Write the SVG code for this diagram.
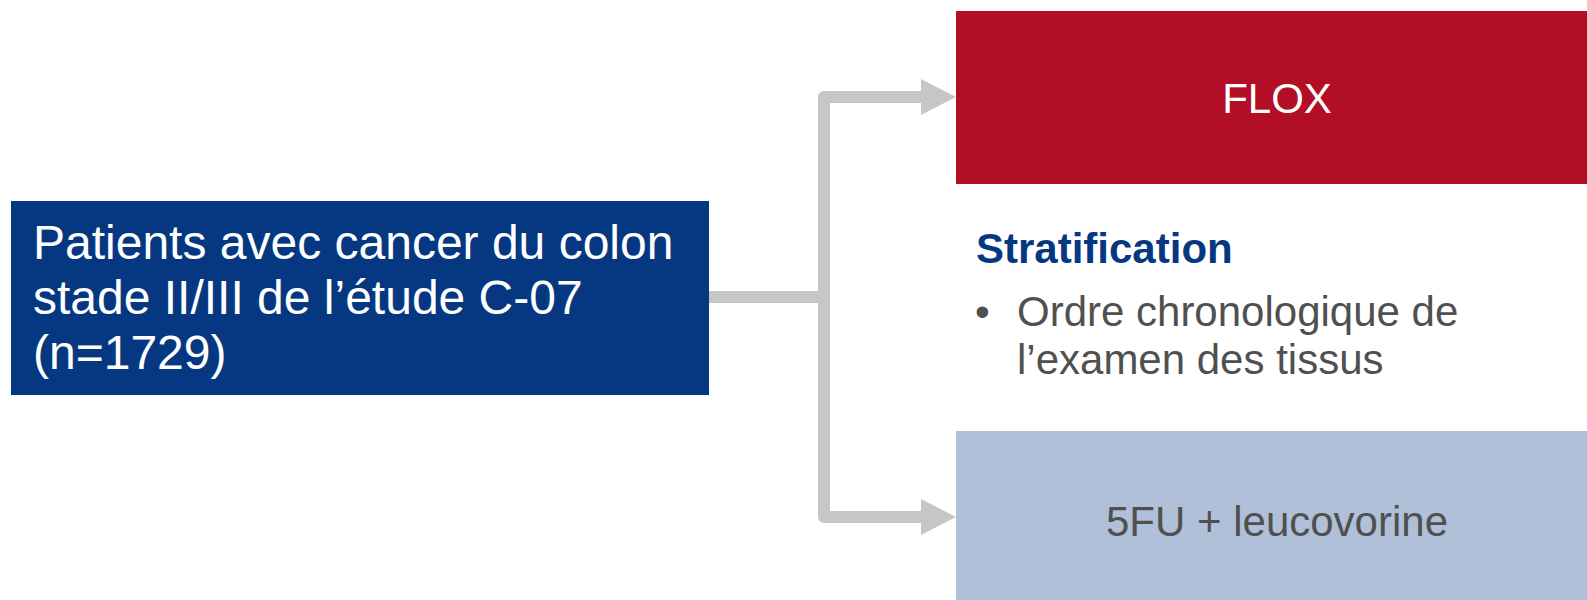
<svg xmlns="http://www.w3.org/2000/svg" width="1587" height="600" viewBox="0 0 1587 600">
<style>
.t{font-family:"Liberation Sans",Arial,sans-serif;}
.w{fill:#ffffff;}
.g{fill:#505050;}
.conn{fill:none;stroke:#C6C6C6;stroke-width:12;stroke-linejoin:round;}
</style>
<defs>
<marker id="arr" markerUnits="userSpaceOnUse" markerWidth="36" markerHeight="36" viewBox="0 0 35 36" refX="0" refY="18" orient="auto">
<path d="M0,0 L35,18 L0,36 Z" fill="#C6C6C6"/>
</marker>
</defs>
<rect width="1587" height="600" fill="#ffffff"/>
<g id="connectors">
<path class="conn" d="M709,297 H824"/>
<path class="conn" d="M824,297 V97 H921" marker-end="url(#arr)"/>
<path class="conn" d="M824,297 V517 H921" marker-end="url(#arr)"/>
</g>
<g id="patients">
<rect x="11" y="201" width="698" height="194" fill="#063882"/>
<text class="t w" font-size="48" x="33" y="259">Patients avec cancer du colon</text>
<text class="t w" font-size="48" x="33" y="314">stade II/III de l’étude C-07</text>
<text class="t w" font-size="48" x="33" y="369">(n=1729)</text>
</g>
<g id="flox">
<rect x="956" y="11" width="631" height="173" fill="#B20E26"/>
<text class="t w" font-size="42" x="1277" y="113" text-anchor="middle">FLOX</text>
</g>
<g id="stratification">
<text class="t" font-size="42" font-weight="bold" fill="#063882" x="976" y="263">Stratification</text>
<text class="t g" font-size="42" x="975" y="326">•</text>
<text class="t g" font-size="42" x="1017" y="326">Ordre chronologique de</text>
<text class="t g" font-size="42" x="1017" y="374">l’examen des tissus</text>
</g>
<g id="fu">
<rect x="956" y="431" width="631" height="169" fill="#B0C0D8"/>
<text class="t g" font-size="42" x="1277" y="536" text-anchor="middle">5FU + leucovorine</text>
</g>
</svg>
